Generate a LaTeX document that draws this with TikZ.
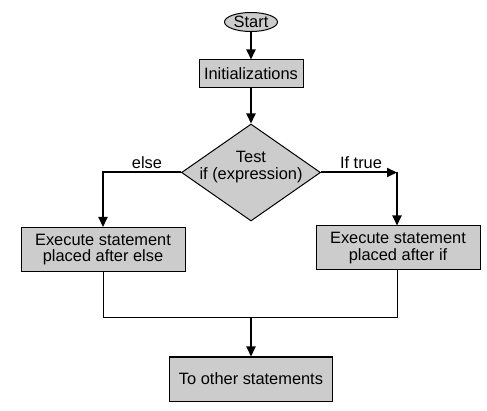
\documentclass[tikz,border=0pt]{standalone}
\usepackage{fontspec}
\setmainfont{Liberation Sans}
\usetikzlibrary{shapes.geometric,arrows.meta}

\tikzset{
  block/.style={rectangle,draw,fill=gray!40,line width=1pt,align=center,inner sep=0pt},
  terminal/.style={ellipse,draw,fill=gray!40,line width=1pt,inner sep=0pt},
  decision/.style={diamond,draw,fill=gray!40,line width=1pt,inner sep=0pt},
  flow/.style={line width=2pt,-{Triangle[length=10pt,width=9pt]}},
  mergeline/.style={line width=1pt}
}

\begin{document}
\begin{tikzpicture}[x=1pt,y=-1pt,font=\fontsize{16.4}{16.8}\selectfont]
\useasboundingbox (0,0) rectangle (487,411);
\node[terminal,minimum width=53pt,minimum height=19pt] (start) at (251,22) {Start};
\node[block,minimum width=104pt,minimum height=28pt] (init) at (251,74) {Initializations};
\node[decision,minimum width=139pt,minimum height=97pt] (test) at (251,172.5) {};
\node[align=center,inner sep=0pt] (testtext) at (251,167) {Test\\if (expression)};
\node[block,minimum width=164pt,minimum height=44pt] (elsebox) at (103,249.5) {Execute statement\\placed after else};
\node[block,minimum width=164pt,minimum height=44pt] (ifbox) at (398,248) {Execute statement\\placed after if};
\node[block,minimum width=163pt,minimum height=44pt] (endbox) at (251,379) {To other statements};
\node[inner sep=0pt] (elselabel) at (147,162.5) {else};
\node[inner sep=0pt] (truelabel) at (361,162.5) {If true};
\coordinate (truecorner) at (397,172.5);
\coordinate (merge) at (251,318);

% main flow
\draw[flow] (start) -- (init);
\draw[flow] (init) -- (test);
\draw[flow] (test.west) -| (elsebox.north);
\draw[flow] (test.east) -- (truecorner);
\draw[flow] (truecorner) -- (truecorner |- ifbox.north);
% back together
\draw[mergeline] (elsebox.south) |- (merge);
\draw[mergeline] (truecorner |- ifbox.south) |- (merge);
\draw[flow] (merge) -- (endbox);
\end{tikzpicture}
\end{document}
